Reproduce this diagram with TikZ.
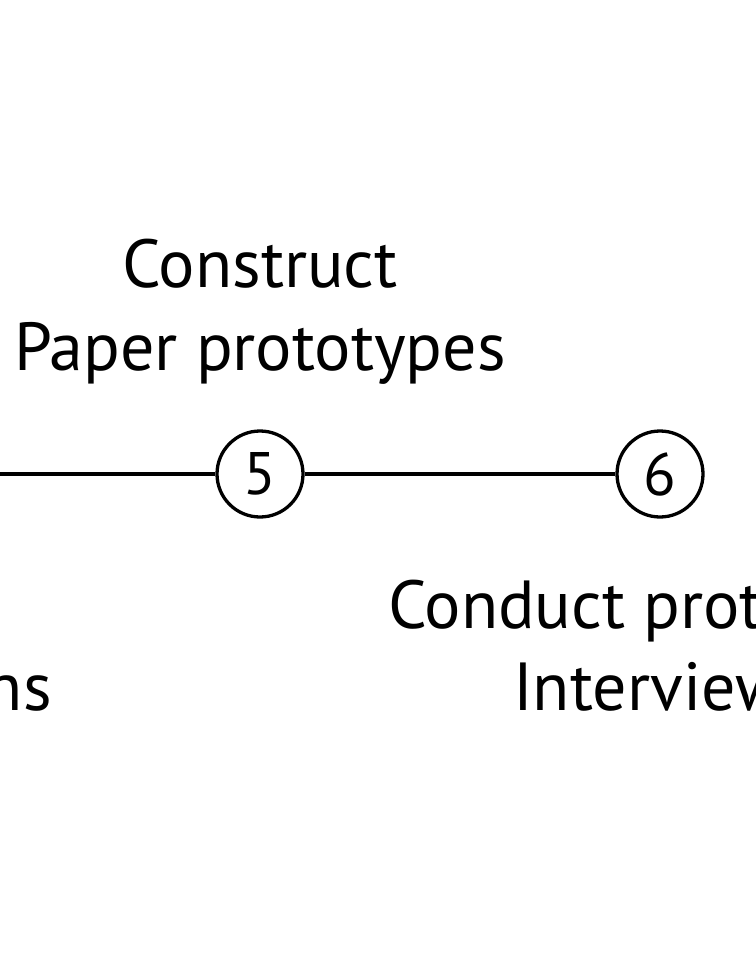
\documentclass[tikz,border=0pt]{standalone}
\usepackage{fontspec}
\setmainfont{PT Sans}
\begin{document}
\begin{tikzpicture}[x=1pt,y=-1pt,
  stepcircle/.style={circle,draw,line width=3.3pt,minimum size=86pt,inner sep=0pt,font=\fontsize{60}{60}\selectfont},
  lbl/.style={font=\fontsize{68}{82}\selectfont,inner sep=0pt,anchor=base},
  conn/.style={line width=3.3pt}]
\useasboundingbox (0,0) rectangle (755,960);
\coordinate (left) at (-10,474);
\node[stepcircle] (s5) at (260,474) {5};
\node[stepcircle] (s6) at (660,474) {6};
\draw[conn] (left) -- (s5);
\draw[conn] (s5) -- (s6);
\node[lbl] (t5a) at (260,287) {Construct};
\node[lbl] (t5b) at (260,370) {Paper prototypes};
\node[lbl,anchor=base west] (t6a) at (388,628) {Conduct prototype};
\node[lbl,anchor=base west] (t6b) at (513,710) {Interviews};
\node[lbl,anchor=base east] (t4b) at (52,710) {ns};
\end{tikzpicture}
\end{document}
